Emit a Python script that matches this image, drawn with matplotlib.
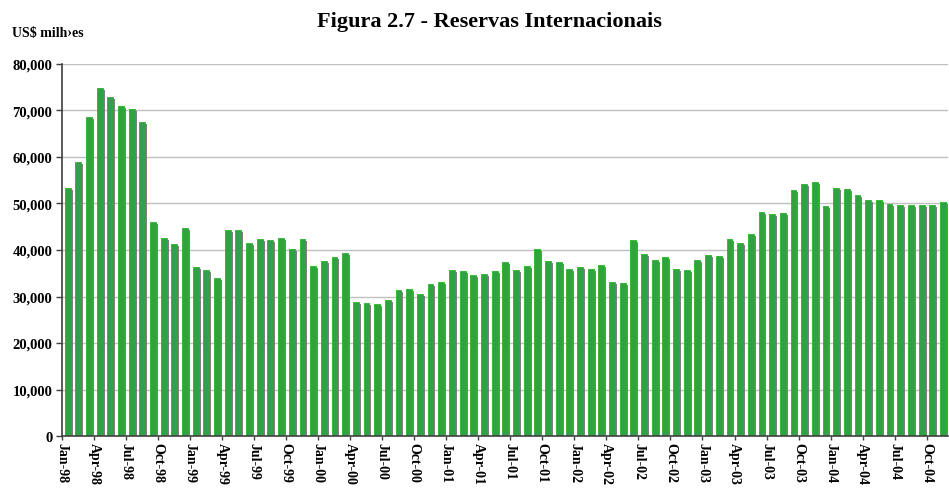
import matplotlib
matplotlib.use("Agg")
import matplotlib.pyplot as plt
import matplotlib.transforms as mtransforms
import numpy as np

# Monthly international reserves, Jan-98 .. Nov-04 (US$ millions)
months = ["Jan", "Feb", "Mar", "Apr", "May", "Jun", "Jul", "Aug", "Sep", "Oct", "Nov", "Dec"]
categories = [f"{m}-{y:02d}" for y in [98, 99, 0, 1, 2, 3, 4] for m in months][:83]

reserves = [
    53300, 58900, 68700, 74800, 72970, 70970, 70300, 67500, 45950, 42600, 41300, 44700,  # 1998
    36300, 35600, 34000, 44400, 44400, 41500, 42300, 42100, 42650, 40200, 42400, 36500,  # 1999
    37600, 38500, 39350, 28800, 28700, 28400, 29300, 31500, 31600, 30500, 32700, 33100,  # 2000
    35700, 35550, 34600, 34800, 35550, 37500, 35700, 36500, 40200, 37600, 37400, 36000,  # 2001
    36300, 36000, 36800, 33100, 33000, 42150, 39100, 37800, 38500, 36000, 35700, 37900,  # 2002
    38900, 38700, 42400, 41600, 43400, 48100, 47700, 47950, 52800, 54200, 54600, 49500,  # 2003
    53400, 53100, 51750, 50700, 50750, 49960, 49750, 49750, 49700, 49600, 50300,         # 2004
]

tick_positions = list(range(0, 83, 3))
tick_labels = [categories[i] for i in tick_positions]

yticks = list(range(0, 80001, 10000))
ytick_labels = ["0"] + [f"{v:,}" for v in yticks[1:]]

title = "Figura 2.7 - Reservas Internacionais"
unit_label = "US$ milh›es"

W, H = 949, 489
fig = plt.figure(figsize=(W / 100, H / 100), dpi=100)
fig.patch.set_facecolor("white")
ax = fig.add_axes([62 / W, (H - 437) / H, 886 / W, 372 / H])

serif = ["Liberation Serif", "DejaVu Serif"]

x = np.arange(len(reserves))
bar_w = 0.55
left = 0.25

# shadow bars, offset right and down in pixels
shadow_tr = ax.transData + mtransforms.ScaledTranslation(2.0 / 100, -2.0 / 100, fig.dpi_scale_trans)
ax.bar(x + left, reserves, width=bar_w, align="edge", color="#7f7f7f",
       linewidth=0, transform=shadow_tr, zorder=2)
ax.bar(x + left, reserves, width=bar_w, align="edge", color="#31a046",
       edgecolor="#28b428", linewidth=0.6, zorder=3)

ax.set_xlim(0, len(reserves))
ax.set_ylim(0, 80000)

ax.set_yticks(yticks)
ax.set_yticklabels(ytick_labels, fontfamily=serif, fontweight="bold", fontsize=10.5)
ax.set_xticks(tick_positions)
ax.set_xticklabels(tick_labels, rotation=-90, fontfamily=serif, fontweight="bold",
                   fontsize=10, va="top", ha="center")

ax.yaxis.grid(True, color="#c0c0c0", linewidth=1.0, zorder=0)
ax.set_axisbelow(True)
for s in ["top", "right"]:
    ax.spines[s].set_visible(False)
ax.spines["left"].set_color("#404040")
ax.spines["bottom"].set_color("#404040")
ax.spines["left"].set_linewidth(1.2)
ax.spines["bottom"].set_linewidth(1.2)
ax.spines["bottom"].set_zorder(5)
ax.tick_params(axis="y", length=4, width=1, color="#404040", pad=3)
ax.tick_params(axis="x", length=3, width=1, color="#404040", pad=1)

fig.text(489 / W, 1 - 22 / H, title, ha="center", va="center",
         fontfamily=serif, fontweight="bold", fontsize=16)
fig.text(12 / W, 1 - 33 / H, unit_label, ha="left", va="center",
         fontfamily=serif, fontweight="bold", fontsize=10)

fig.savefig("out.png", dpi=100, facecolor="white")
